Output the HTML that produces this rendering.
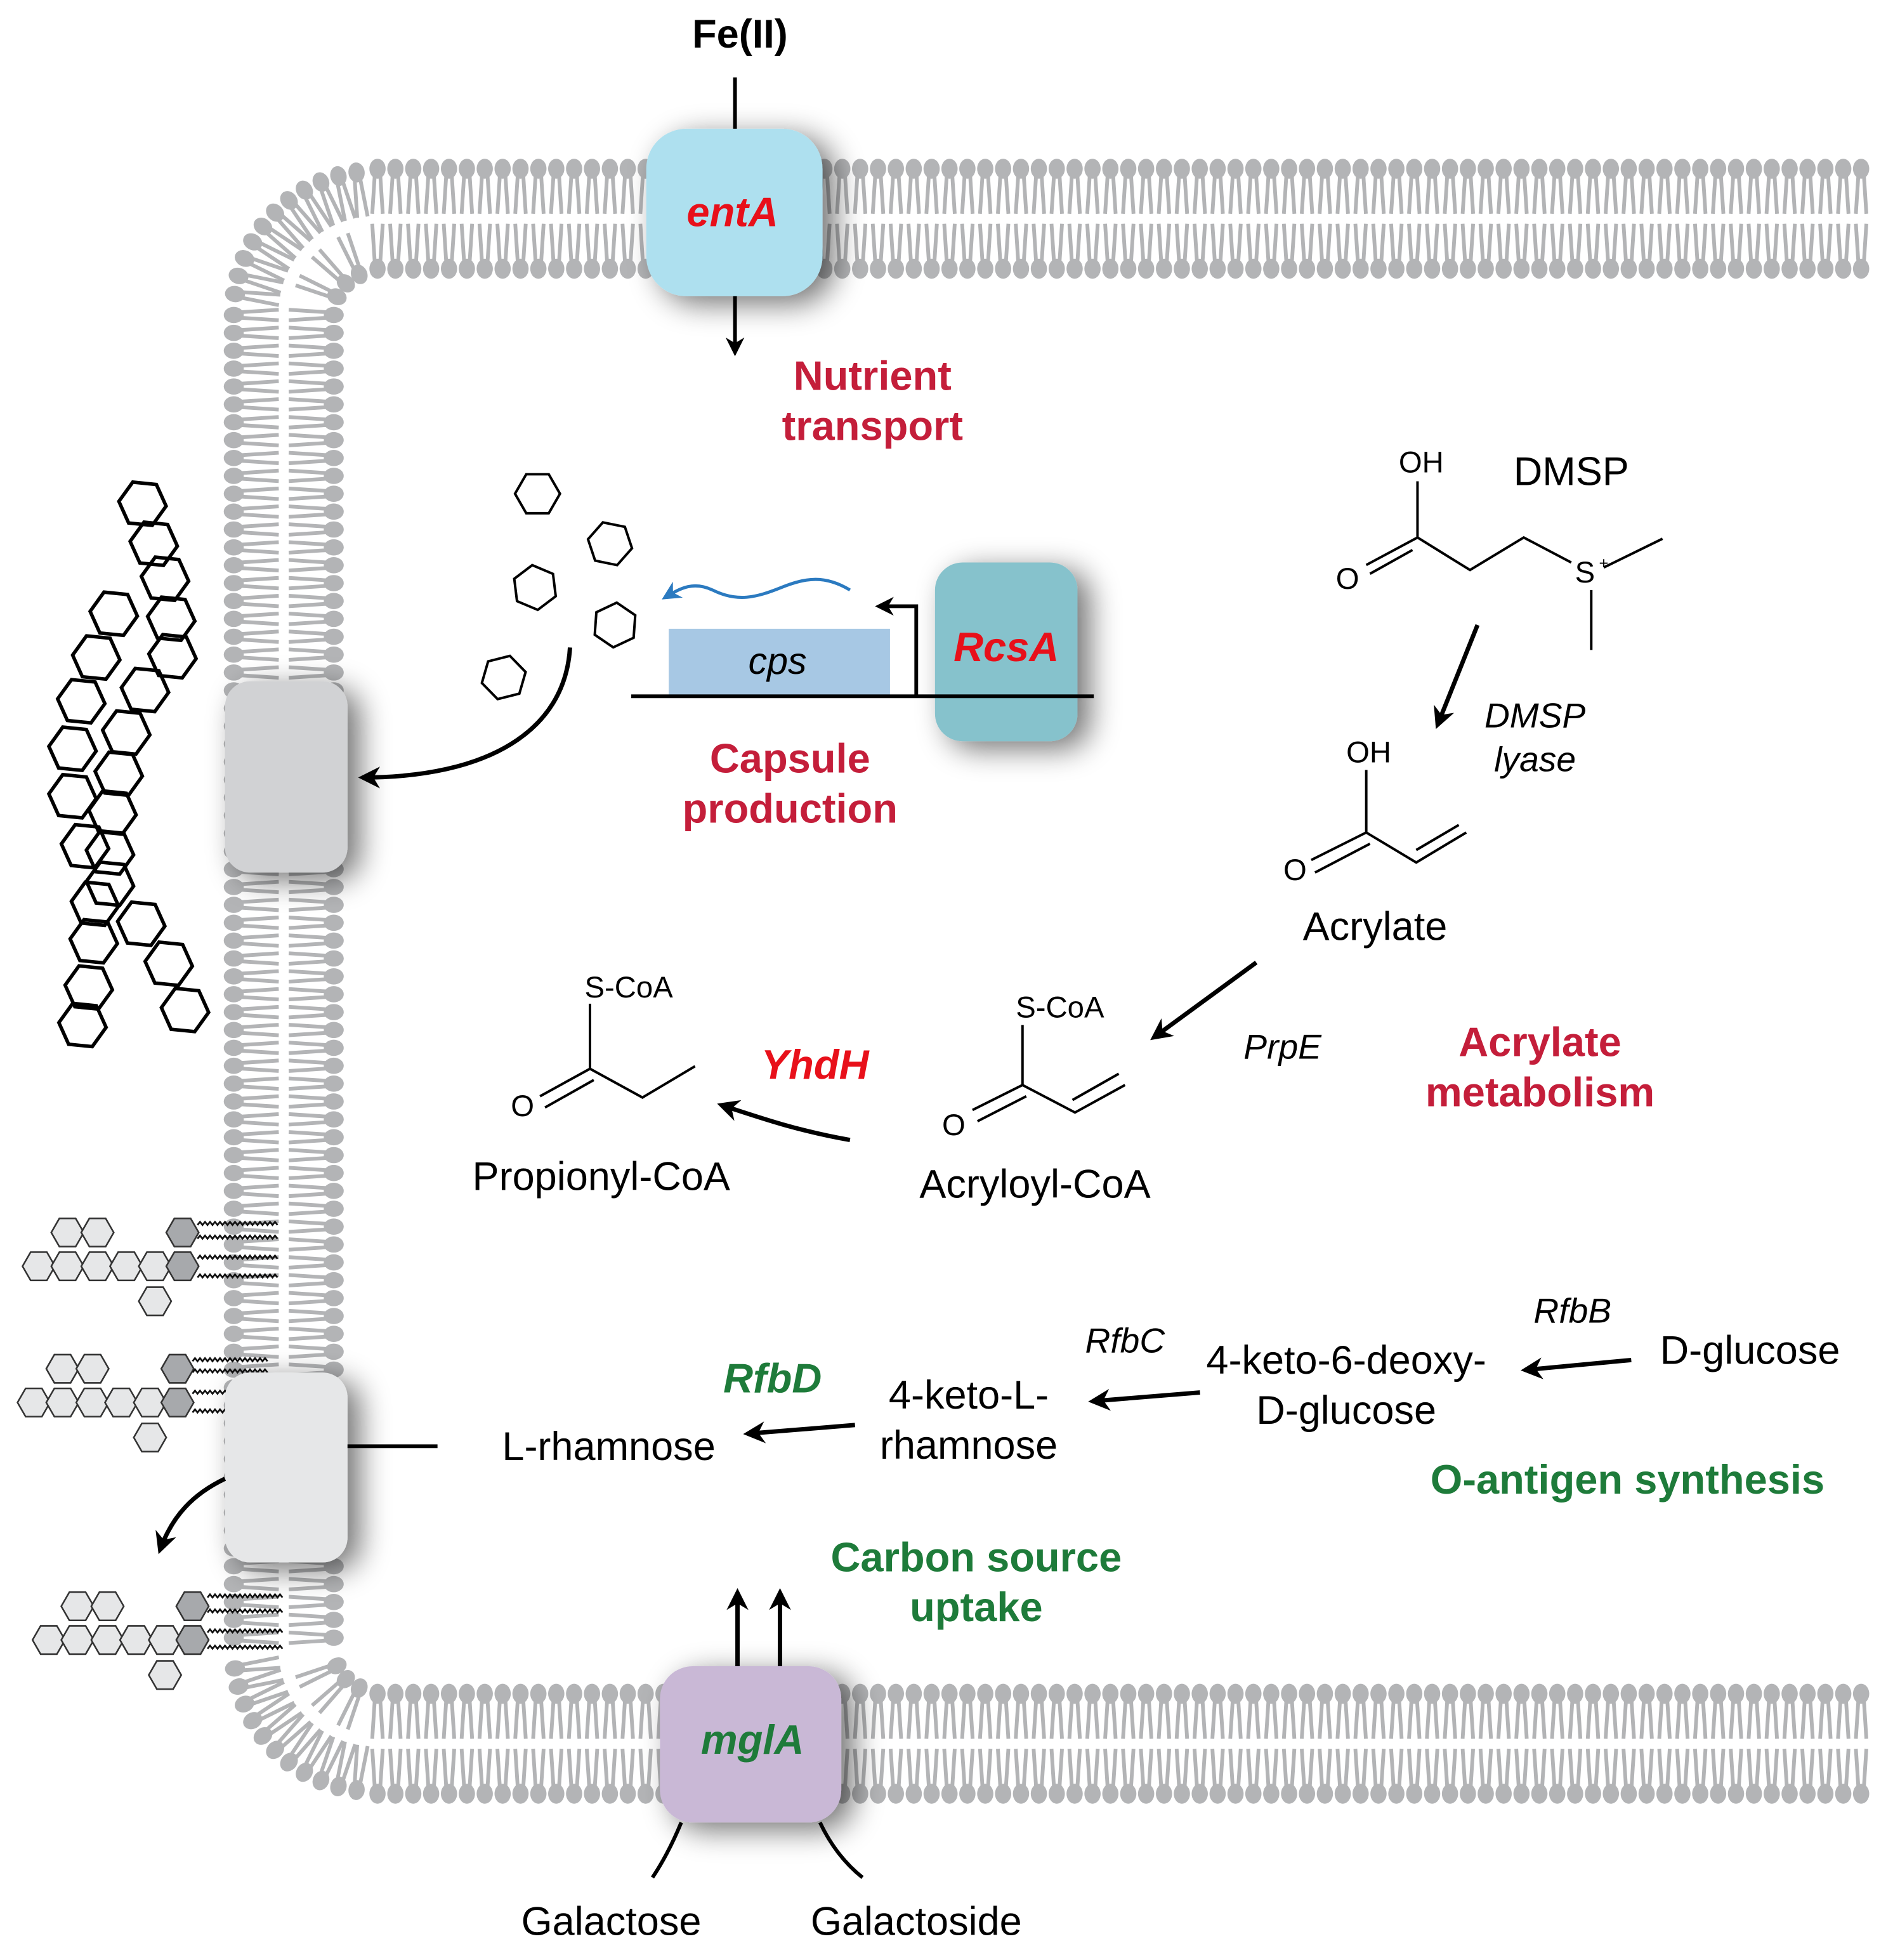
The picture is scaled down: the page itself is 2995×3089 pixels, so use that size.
<!DOCTYPE html>
<html><head><meta charset="utf-8">
<style>
html,body{margin:0;padding:0;background:#fff;}
svg{display:block;}
text{font-family:"Liberation Sans",Arial,sans-serif;}
</style></head>
<body>
<svg id="s" width="2995" height="3089" viewBox="0 0 1520 1568" preserveAspectRatio="none" xmlns="http://www.w3.org/2000/svg">
<defs>
<filter id="sh" x="-60%" y="-60%" width="220%" height="220%">
<feGaussianBlur in="SourceAlpha" stdDeviation="12"/>
<feOffset dx="10" dy="6" result="b"/>
<feComponentTransfer><feFuncA type="linear" slope="0.55"/></feComponentTransfer>
<feMerge><feMergeNode/><feMergeNode in="SourceGraphic"/></feMerge>
</filter>
<marker id="ah" viewBox="0 0 10 10" refX="8" refY="5" markerWidth="5" markerHeight="5" orient="auto-start-reverse">
<path d="M0,0 L10,5 L0,10 L3,5 z" fill="#000"/></marker>
<marker id="ahb" viewBox="0 0 10 10" refX="8" refY="5" markerWidth="6" markerHeight="6" orient="auto">
<path d="M0,0 L10,5 L0,10 L3,5 z" fill="#2b7ac0"/></marker>
</defs>
<g id="mem"></g>
<g id="caps" fill="none" stroke="#000" stroke-width="2.8"></g>
<g id="lps" stroke="#333" stroke-width="1.3"></g>

<rect x="517" y="103" width="141" height="134" rx="32" fill="#aee0ef" filter="url(#sh)"/>
<rect x="180" y="545" width="98" height="153" rx="20" fill="#d1d2d4" filter="url(#sh)"/>
<rect x="180" y="1098" width="98" height="152" rx="20" fill="#e6e7e8" filter="url(#sh)"/>
<rect x="528" y="1333" width="145" height="125" rx="26" fill="#c9b8d6" filter="url(#sh)"/>
<rect x="748" y="450" width="114" height="143" rx="22" fill="#86c2cc" filter="url(#sh)"/>

<g stroke="#000" fill="none">
<line x1="588" y1="62" x2="588" y2="103" stroke-width="3"/>
<line x1="588" y1="237" x2="588" y2="282" stroke-width="3" marker-end="url(#ah)"/>
<rect x="535" y="503" width="177" height="53" fill="#a7c8e4" stroke="none"/>
<line x1="505" y1="557" x2="875" y2="557" stroke-width="3"/>
<path d="M733,557 V485 H703" stroke-width="3" marker-end="url(#ah)"/>
<path d="M680,472 C660,460 645,462 625,470 C605,478 590,482 570,472 C555,465 545,470 532,478" stroke="#2b7ac0" stroke-width="2.5" marker-end="url(#ahb)"/>
<path d="M456,518 C452,585 390,622 290,622" stroke-width="3.5" marker-end="url(#ah)"/>
<line x1="278" y1="1157" x2="350" y2="1157" stroke-width="3"/>
<path d="M180,1183 C155,1195 138,1212 128,1240" stroke-width="3.5" marker-end="url(#ah)"/>
<g stroke-width="2">
<line x1="1134" y1="385" x2="1134" y2="430"/>
<line x1="1134" y1="430" x2="1093" y2="452"/><line x1="1130" y1="440" x2="1096" y2="459"/>
<polyline points="1134,430 1176,456 1219,430 1257,450"/>
<line x1="1283" y1="454" x2="1330" y2="431"/>
<line x1="1273" y1="472" x2="1273" y2="520"/>
<line x1="1093" y1="616" x2="1093" y2="666"/>
<line x1="1093" y1="666" x2="1049" y2="688"/><line x1="1096" y1="675" x2="1052" y2="698"/>
<polyline points="1093,666 1133,690 1173,666"/><line x1="1133" y1="680" x2="1167" y2="660"/>
<line x1="818" y1="820" x2="818" y2="868"/>
<line x1="818" y1="868" x2="778" y2="888"/><line x1="821" y1="877" x2="782" y2="897"/>
<polyline points="818,868 860,890 900,868"/><line x1="858" y1="880" x2="895" y2="859"/>
<line x1="472" y1="803" x2="472" y2="855"/>
<line x1="472" y1="855" x2="432" y2="877"/><line x1="475" y1="864" x2="436" y2="886"/>
<polyline points="472,855 514,878 556,853"/>
</g>
<g stroke-width="3.5" marker-end="url(#ah)">
<line x1="1182" y1="500" x2="1150" y2="580"/>
<line x1="1005" y1="770" x2="923" y2="830"/>
<path d="M680,912 C640,905 610,895 577,884"/>
<line x1="1305" y1="1088" x2="1220" y2="1096"/>
<line x1="960" y1="1114" x2="874" y2="1121"/>
<line x1="684" y1="1140" x2="598" y2="1147"/>
<line x1="590" y1="1333" x2="590" y2="1274"/>
<line x1="624" y1="1333" x2="624" y2="1274"/>
</g>
<path d="M545,1458 C538,1475 530,1490 522,1502" stroke-width="3"/>
<path d="M656,1458 C664,1475 675,1490 690,1502" stroke-width="3"/>
</g>

<g font-size="32" text-anchor="middle">
<text x="592" y="38" font-weight="bold">Fe(II)</text>
<text x="586" y="181" font-weight="bold" font-style="italic" fill="#e8101a" font-size="33">entA</text>
<text x="805" y="529" font-weight="bold" font-style="italic" fill="#e8101a" font-size="33">RcsA</text>
<text x="622" y="539" font-style="italic" font-size="30">cps</text>
<text x="602" y="1403" font-weight="bold" font-style="italic" fill="#1e7b3a" font-size="33">mglA</text>
<g font-weight="bold" fill="#c41e3a" font-size="33">
<text x="698" y="312">Nutrient</text><text x="698" y="352">transport</text>
<text x="632" y="618">Capsule</text><text x="632" y="658">production</text>
<text x="1232" y="845">Acrylate</text><text x="1232" y="885">metabolism</text>
<text x="652" y="863" font-style="italic" fill="#e8101a">YhdH</text>
</g>
<g font-weight="bold" fill="#1e7b3a" font-size="33">
<text x="1302" y="1195">O-antigen synthesis</text>
<text x="781" y="1257">Carbon source</text><text x="781" y="1297">uptake</text>
<text x="618" y="1114" font-style="italic">RfbD</text>
</g>
<text x="1257" y="388" font-size="32">DMSP</text>
<g font-size="24"><text x="1137" y="378">OH</text><text x="1078" y="471">O</text><text x="1268" y="466">S</text>
<text x="1095" y="610">OH</text><text x="1036" y="704">O</text>
<text x="848" y="814">S-CoA</text><text x="763" y="908">O</text>
<text x="503" y="798">S-CoA</text><text x="418" y="893">O</text></g>
<text x="1283" y="455" font-size="13">+</text>
<g font-style="italic" font-size="28"><text x="1228" y="582">DMSP</text><text x="1228" y="617">lyase</text>
<text x="1026" y="847">PrpE</text><text x="1258" y="1058">RfbB</text><text x="900" y="1082">RfbC</text></g>
<text x="1100" y="752">Acrylate</text>
<text x="828" y="958">Acryloyl-CoA</text>
<text x="481" y="952">Propionyl-CoA</text>
<text x="1400" y="1091">D-glucose</text>
<text x="1077" y="1099">4-keto-6-deoxy-</text><text x="1077" y="1139">D-glucose</text>
<text x="775" y="1127">4-keto-L-</text><text x="775" y="1167">rhamnose</text>
<text x="487" y="1168">L-rhamnose</text>
<text x="489" y="1548">Galactose</text><text x="733" y="1548">Galactoside</text>
</g>
</svg>
<script>
(function(){
var NS="http://www.w3.org/2000/svg";
function el(p,t,a){var e=document.createElementNS(NS,t);for(var k in a)e.setAttribute(k,a[k]);p.appendChild(e);return e;}
var mem=document.getElementById("mem");var C="#b3b4b6";
function lip(hx,hy,ux,uy,len){
 var px=-uy,py=ux;
 var ang=Math.atan2(uy,ux)*180/Math.PI;
 el(mem,"ellipse",{cx:hx,cy:hy,rx:8,ry:6.5,fill:C,transform:"rotate("+ang+" "+hx+" "+hy+")"});
 [-1,1].forEach(function(s){
  el(mem,"line",{x1:hx+ux*5+px*s*2.2,y1:hy+uy*5+py*s*2.2,x2:hx+ux*len+px*s*4.2,y2:hy+uy*len+py*s*4.2,stroke:C,"stroke-width":3});
 });
}
var st=14.3,x,y,a;
for(x=302;x<=1492;x+=st){lip(x,135,0,1,36);lip(x,215,0,-1,36);}
for(y=252;y<=1318;y+=st){lip(187,y,1,0,36);lip(267,y,-1,0,36);}
for(x=302;x<=1500;x+=st){lip(x,1355,0,1,36);lip(x,1435,0,-1,36);}
function corner(cx,cy,a0,a1){
 var da=st/113,n=Math.round((a1-a0)/da);
 for(var i=1;i<n;i++){a=a0+(a1-a0)*i/n;var c=Math.cos(a),s=Math.sin(a);
  lip(cx+113*c,cy+113*s,-c,-s,36);}
 n=Math.round((a1-a0)/(st/33));
 for(i=1;i<n;i++){a=a0+(a1-a0)*i/n;c=Math.cos(a);s=Math.sin(a);
  lip(cx+33*c,cy+33*s,c,s,34);}
}
corner(300,250,Math.PI,1.5*Math.PI);
corner(300,1320,0.5*Math.PI,Math.PI);
function hexPts(cx,cy,r,rot){var p=[];for(var i=0;i<6;i++){var t=rot+i*Math.PI/3;p.push((cx+r*Math.cos(t)).toFixed(1)+","+(cy+r*Math.sin(t)).toFixed(1));}return p.join(" ");}
var caps=document.getElementById("caps");
var A=[[114,403],[123,435],[132,463],[137,495],[138,525],[116,552],[101,586],[95,619],[90,650],[88,682],[76,723],[75,753],[71,790],[66,820]];
var B=[[91,491],[77,526],[65,561],[58,599],[58,637],[68,677],[88,707],[113,739],[135,771],[148,808]];
A.concat(B).forEach(function(h,i){el(caps,"polygon",{points:hexPts(h[0],h[1],19,0.1)});});
[[430,395],[488,435],[428,470],[492,500],[403,542]].forEach(function(h,i){el(caps,"polygon",{points:hexPts(h[0],h[1],18,0.2*i),"stroke-width":2});});
var lps=document.getElementById("lps");
function lp(ox,oy,tails,tend){
 var L="#e6e7e8",D="#a7a9ac",r=13;
 [31,54,78,101,124].forEach(function(x){el(lps,"polygon",{points:hexPts(x+ox,1013+oy,r,0),fill:L});});
 el(lps,"polygon",{points:hexPts(146+ox,1013+oy,r,0),fill:D});
 [54,78].forEach(function(x){el(lps,"polygon",{points:hexPts(x+ox,986+oy,r,0),fill:L});});
 el(lps,"polygon",{points:hexPts(146+ox,986+oy,r,0),fill:D});
 el(lps,"polygon",{points:hexPts(124+ox,1041+oy,r,0),fill:L});
 tails.forEach(function(ty){var d="M"+(158+ox)+","+ty;for(var x=158+ox;x<tend;x+=4){d+=" L"+(x+2)+","+(ty-2.5)+" L"+(x+4)+","+ty;}
  el(lps,"path",{d:d,fill:"none",stroke:"#111","stroke-width":1.4});});
}
lp(0,0,[980,991,1007,1022],220);
lp(-4,109,[1089,1098,1115,1130],212);
lp(8,299,[1278,1290,1306,1319],226);
})();
</script>
</body></html>
